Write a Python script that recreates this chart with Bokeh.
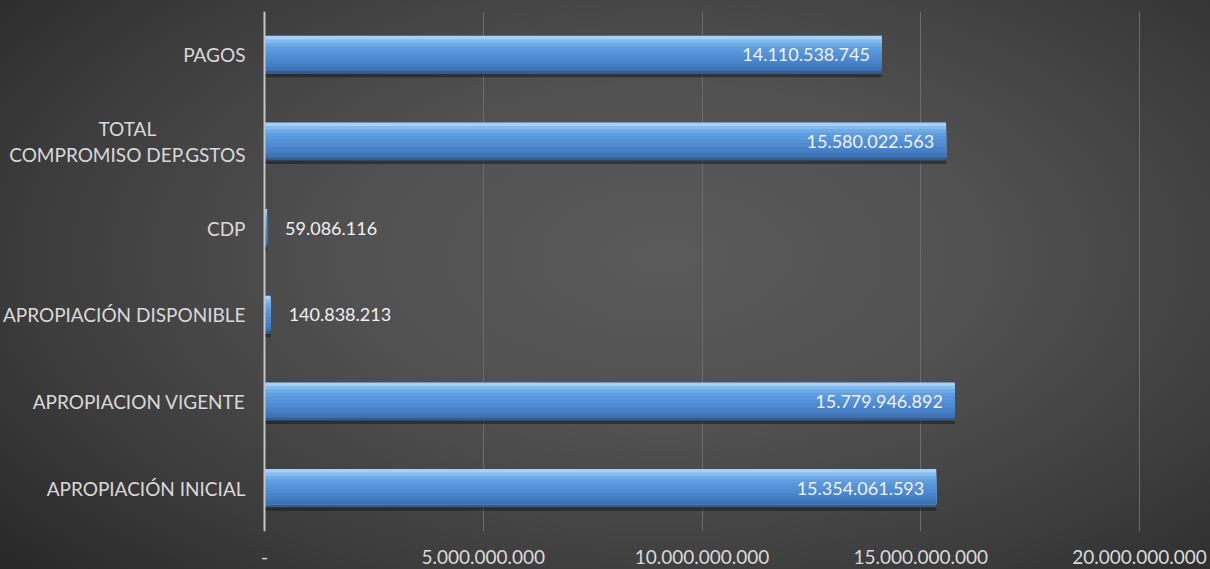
from bokeh.plotting import figure
from bokeh.models import ColumnDataSource, FactorRange, Range1d, FixedTicker, Span
from bokeh.transform import dodge
from bokeh.core.properties import value
from bokeh.embed import file_html
from bokeh.resources import INLINE

# ---- data (bottom to top) ----
categories = ["APROPIACIÓN INICIAL", "APROPIACION VIGENTE", "APROPIACIÓN DISPONIBLE",
              "CDP", "TOTAL\nCOMPROMISO DEP.GSTOS", "PAGOS"]
amounts = [15354061593, 15779946892, 140838213, 59086116, 15580022563, 14110538745]
tick_values = [0, 5000000000, 10000000000, 15000000000, 20000000000]
tick_labels = ["-", "5.000.000.000", "10.000.000.000", "15.000.000.000", "20.000.000.000"]

labels = [f"{v:,}".replace(",", ".") for v in amounts]
inside = [v > 1e9 for v in amounts]
src = ColumnDataSource(dict(
    cat=categories, val=amounts, lab=labels, zero=[0] * len(amounts),
    align=["right" if i else "left" for i in inside],
    xoff=[-12 if i else 18 for i in inside],
))

FONT = "Lato"
W, Hpx = 1210, 569
BR, BT, BB = 62, 11, 38          # borders (px)
AXIS_PX = 264                     # pixel position of value 0
PX_PER_UNIT = 875 / 20e9          # pixel scale
frame_w = W - BR
x0 = -AXIS_PX / PX_PER_UNIT
x1 = (frame_w - AXIS_PX) / PX_PER_UNIT

p = figure(width=W, height=Hpx, output_backend="svg", toolbar_location=None,
           y_range=FactorRange(factors=categories, range_padding=0),
           x_range=Range1d(x0, x1),
           min_border_left=0, min_border_right=BR, min_border_top=BT, min_border_bottom=BB)
p.background_fill_alpha = 0
p.border_fill_alpha = 0
p.outline_line_color = None
p.styles = {"background": "radial-gradient(ellipse 75% 85% at 55% 45%, #5a5a5a 0%, #515151 35%, #3c3c3c 70%, #262626 100%)"}

p.yaxis.visible = False
p.ygrid.grid_line_color = None
p.xgrid.grid_line_color = "#6c6c6c"
p.xgrid.grid_line_width = 1
p.xgrid.ticker = FixedTicker(ticks=tick_values[1:])

p.xaxis.ticker = FixedTicker(ticks=tick_values)
p.xaxis.major_label_overrides = {t: l for t, l in zip(tick_values, tick_labels)}
p.xaxis.axis_line_color = None
p.xaxis.major_tick_line_color = None
p.xaxis.minor_tick_line_color = None
p.xaxis.major_label_text_color = "#d9d9d9"
p.xaxis.major_label_text_font = FONT
p.xaxis.major_label_text_font_size = "19px"
p.xaxis.major_label_standoff = 12

# category axis line
p.add_layout(Span(location=0, dimension="height", line_color="#c4c4c4", line_width=2))

H = 0.44
# shadow
p.hbar(y=dodge("cat", -0.04, range=p.y_range), right="val", left=0, height=H,
       source=src, fill_color="#141414", fill_alpha=0.5, line_color=None)
# gradient (layered from top band down to bottom, no seams)
stripe_colors = ["#2f5e96", "#a9cff4", "#86bbee", "#6eaae6", "#5f9ee0", "#5896db", "#5390d6",
                 "#4e8ad0", "#4984c9", "#447dc1", "#3e74b5", "#33649f"]
n = len(stripe_colors) - 1
sh = H / n
for i, c in enumerate(stripe_colors):
    if i == 0:
        p.hbar(y="cat", right="val", left=0, height=H, source=src, fill_color=c, line_color=None)
        continue
    k = i - 1
    top = H / 2 - k * sh
    bottom = -H / 2 + (0.035 if k < n - 1 else 0.035)
    p.hbar(y=dodge("cat", (top + bottom) / 2, range=p.y_range), right="val", left=0,
           height=top - bottom, source=src, fill_color=c, line_color=None)

# category labels
p.text(x="zero", y="cat", text="cat", source=src, x_offset=-19, anchor="center_right",
       text_align="center", text_baseline="middle", text_color="#d9d9d9",
       text_font=value(FONT), text_font_size="19px", text_line_height=1.15)

# value labels
p.text(x="val", y="cat", text="lab", source=src, text_align="align", x_offset="xoff",
       text_baseline="middle", text_color="#f2f2f2", text_font=value(FONT),
       text_font_size="18px")

open("out.html", "w").write(file_html(p, INLINE))
